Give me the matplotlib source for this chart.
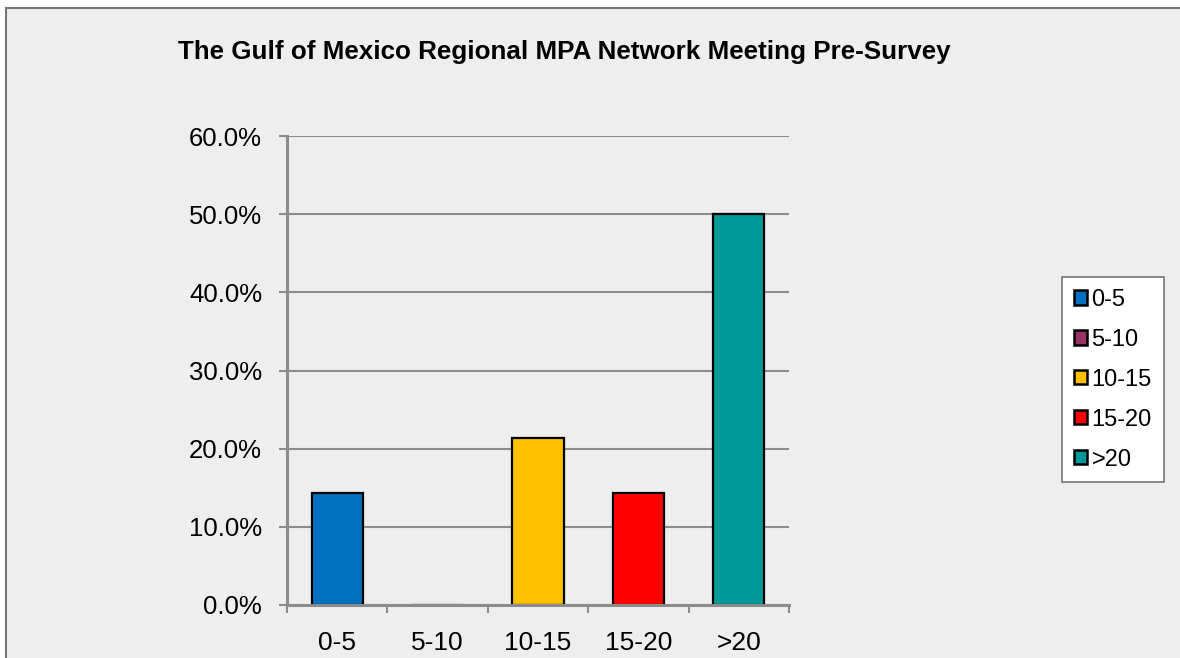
import matplotlib.pyplot as plt
from matplotlib.patches import Rectangle
from matplotlib.ticker import PercentFormatter

plt.rcParams['font.family'] = ['Liberation Sans', 'DejaVu Sans']

# data
categories = ['0-5', '5-10', '10-15', '15-20', '>20']
shares = [0.143, 0.0, 0.214, 0.143, 0.500]
bar_colors = ['#0070C0', '#993366', '#FFC000', '#FF0000', '#009999']
title = 'The Gulf of Mexico Regional MPA Network Meeting Pre-Survey'

fig = plt.figure(figsize=(11.8, 6.58), dpi=100)
fig.patch.set_facecolor('white')

# grey chart area with a border (runs off the right and bottom edges)
fig.patches.append(Rectangle((6 / 1180, -0.05), 1.1, 1 - 8 / 658 + 0.05,
                             transform=fig.transFigure, facecolor='#EEEEEE',
                             edgecolor='#767676', linewidth=1.5, zorder=-5))

ax = fig.add_axes([287 / 1180, 1 - 605 / 658, 502 / 1180, (605 - 136) / 658])
ax.set_facecolor('none')

x = range(len(categories))
bars = ax.bar(x, shares, width=0.51, color=bar_colors, edgecolor='black',
              linewidth=1.6, zorder=3)

ax.set_xlim(-0.5, len(categories) - 0.5)
ax.set_ylim(0, 0.6)
ax.set_yticks([0, 0.1, 0.2, 0.3, 0.4, 0.5, 0.6])
ax.yaxis.set_major_formatter(PercentFormatter(1.0, decimals=1))
ax.set_xticks([i - 0.5 for i in range(len(categories) + 1)], minor=False)
ax.set_xticklabels([])
ax.set_xticks(list(x), minor=True)
ax.set_xticklabels(categories, minor=True)

grid_col = '#8C8C8C'
ax.grid(axis='y', color=grid_col, linewidth=1.5, zorder=1)
for s in ['top', 'right']:
    ax.spines[s].set_visible(False)
for s in ['left', 'bottom']:
    ax.spines[s].set_color(grid_col)
    ax.spines[s].set_linewidth(2.2)
    ax.spines[s].set_zorder(4)

ax.tick_params(axis='y', which='major', direction='out', length=6, width=1.5,
               color=grid_col, labelsize=18.5, pad=12)
ax.tick_params(axis='x', which='major', direction='out', length=6, width=1.5,
               color=grid_col)
ax.tick_params(axis='x', which='minor', length=0, labelsize=19, pad=19)

fig.text(178 / 1180, 1 - 52 / 658, title, fontsize=18.7, fontweight='bold',
         va='center', ha='left', color='black')

handles = [Rectangle((0, 0), 1, 1, facecolor=c, edgecolor='black', linewidth=1.8)
           for c in bar_colors]
leg = fig.legend(handles, categories, loc='upper left',
                 bbox_to_anchor=(1062 / 1180, 1 - 277 / 658), fontsize=17,
                 frameon=True, fancybox=False, handlelength=0.55,
                 handleheight=0.55, handletextpad=0.2, labelspacing=0.76,
                 borderpad=0.5, borderaxespad=0)
leg.get_frame().set_edgecolor('#767676')
leg.get_frame().set_linewidth(1.2)
leg.get_frame().set_facecolor('white')
leg.get_frame().set_alpha(1)

fig.savefig('out.png', dpi=100)
